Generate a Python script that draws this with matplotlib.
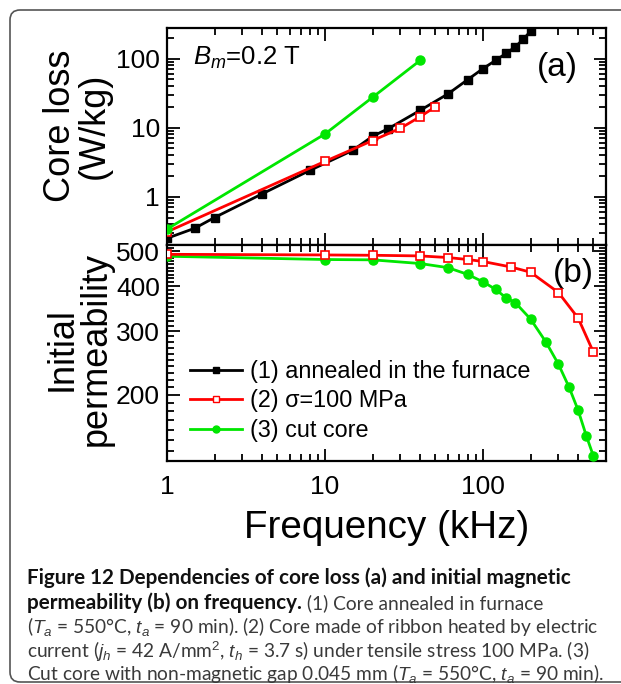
import matplotlib
matplotlib.use("Agg")
import matplotlib.pyplot as plt
import numpy as np
from matplotlib.lines import Line2D
from matplotlib.patches import FancyBboxPatch
from matplotlib.text import Annotation
from matplotlib.ticker import FixedLocator, LogLocator, NullFormatter
from matplotlib.transforms import IdentityTransform

plt.rcParams["font.family"] = ["Liberation Sans", "DejaVu Sans"]
plt.rcParams["mathtext.fontset"] = "custom"
plt.rcParams["mathtext.rm"] = "Liberation Sans"
plt.rcParams["mathtext.it"] = "Liberation Sans:italic"

# ---- data ----
# (a) core loss, W/kg
loss_f1 = [1, 1.5, 2, 4, 8, 15, 20, 25, 40, 60, 80, 100, 120, 140, 160, 180, 200]
loss_v1 = [0.25, 0.35, 0.50, 1.1, 2.4, 4.7, 7.5, 9.6, 17.8, 30.8, 49.6, 71.6,
           94, 119, 148, 191, 249]
loss_f2 = [1, 10, 20, 30, 40, 50]
loss_v2 = [0.31, 3.25, 6.5, 9.8, 14.4, 20.1]
loss_f3 = [1, 10, 20, 40]
loss_v3 = [0.34, 8.1, 27.5, 94]

# (b) initial permeability
perm_f2 = [1, 10, 20, 40, 60, 80, 100, 150, 200, 300, 400, 500]
perm_v2 = [490, 488, 487, 485, 480, 474, 468, 452, 437, 384, 326, 262]
perm_f3 = [1, 10, 20, 40, 60, 80, 100, 120, 140, 160, 200, 250, 300, 350, 400,
           450, 500]
perm_v3 = [484, 474, 473, 462, 450, 431, 411, 392, 371, 360, 324, 280, 243, 210,
           181, 154, 135]

x_ticks = [1, 10, 100]
x_ticklabels = ["1", "10", "100"]
loss_ticks = [1, 10, 100]
loss_ticklabels = ["1", "10", "100"]
perm_ticks = [200, 300, 400, 500]
perm_ticklabels = ["200", "300", "400", "500"]
labels = ["(1) annealed in the furnace", "(2) σ=100 MPa", "(3) cut core"]

BLACK, RED, GREEN = "#000000", "#ff0000", "#00e600"

W, H = 621, 684
fig = plt.figure(figsize=(W / 100, H / 100), dpi=100)


def axes_px(x0, y0, x1, y1):
    """Add axes given pixel box (top-left origin)."""
    return fig.add_axes([x0 / W, 1 - y1 / H, (x1 - x0) / W, (y1 - y0) / H])


ax1 = axes_px(167, 28, 606, 245)
ax2 = axes_px(167, 245, 606, 461)

# (a)
ax1.plot(loss_f1, loss_v1, color=BLACK, lw=2, marker="s", ms=6, zorder=3)
ax1.plot(loss_f2, loss_v2, color=RED, lw=2, marker="s", ms=6, mfc="white",
         mec=RED, mew=1.2, zorder=4)
ax1.plot(loss_f3, loss_v3, color=GREEN, lw=2, marker="o", ms=6.5, zorder=4)

# (b)
ax2.plot(perm_f2, perm_v2, color=RED, lw=2, marker="s", ms=6, mfc="white",
         mec=RED, mew=1.2, zorder=4)
ax2.plot(perm_f3, perm_v3, color=GREEN, lw=2, marker="o", ms=6.5, zorder=3)

for ax in (ax1, ax2):
    ax.set_xscale("log")
    ax.set_yscale("log")
    ax.set_xlim(1, 600)
    ax.xaxis.set_major_locator(FixedLocator(x_ticks))
    ax.xaxis.set_minor_locator(LogLocator(subs=np.arange(2, 10)))
    ax.xaxis.set_minor_formatter(NullFormatter())
    ax.tick_params(which="both", direction="in", top=True, right=True,
                   width=1.3, labelsize=19, pad=5)
    ax.tick_params(which="major", length=9)
    ax.tick_params(which="minor", length=5)
    for s in ax.spines.values():
        s.set_linewidth(1.6)

ax1.set_ylim(0.2, 277)
ax1.set_yticks(loss_ticks)
ax1.set_yticklabels(loss_ticklabels)
ax1.yaxis.set_minor_locator(LogLocator(subs=np.arange(2, 10)))
ax1.yaxis.set_minor_formatter(NullFormatter())
ax1.tick_params(axis="x", labelbottom=False)

ax2.set_ylim(131, 520)
ax2.set_yticks(perm_ticks)
ax2.set_yticklabels(perm_ticklabels)
ax2.yaxis.set_minor_locator(FixedLocator(np.arange(140, 520, 10)))
ax2.yaxis.set_minor_formatter(NullFormatter())
ax2.set_xticklabels(x_ticklabels)
ax2.tick_params(axis="x", pad=10)

ax1.set_ylabel("Core loss\n(W/kg)", fontsize=26, linespacing=0.95,
               va="center", ha="center")
ax1.yaxis.set_label_coords(-0.205, 0.55)
ax2.set_ylabel("Initial\npermeability", fontsize=26, linespacing=0.95,
               va="center", ha="center")
ax2.yaxis.set_label_coords(-0.2, 0.52)
ax2.set_xlabel("Frequency (kHz)", fontsize=27.8, labelpad=8)

ax1.text(0.06, 0.83, r"$B_m$=0.2 T", transform=ax1.transAxes, fontsize=18.5,
         va="baseline")
ax1.text(0.89, 0.82, "(a)", transform=ax1.transAxes, fontsize=24,
         ha="center", va="center")
ax2.text(0.925, 0.87, "(b)", transform=ax2.transAxes, fontsize=24,
         ha="center", va="center")

handles = [
    Line2D([], [], color=BLACK, lw=2, marker="s", ms=4.5),
    Line2D([], [], color=RED, lw=2, marker="s", ms=4.5, mfc="white", mec=RED),
    Line2D([], [], color=GREEN, lw=2, marker="o", ms=5),
]
ax2.legend(handles, labels, loc="lower left", bbox_to_anchor=(0.052, 0.088),
           frameon=False, fontsize=16.8, handlelength=2.25, handletextpad=0.35,
           labelspacing=0.28, borderpad=0, borderaxespad=0)

# rounded frame round the whole figure (right side runs off the picture)
frame = FancyBboxPatch((10, 2), 660, 672, boxstyle="round,pad=0,rounding_size=10",
                       transform=IdentityTransform(), fill=False, ec="#555555",
                       lw=1.2)
fig.patches.append(frame)

# caption
CAP = dict(family=["Lato", "DejaVu Sans"], va="baseline")
DARK, GREY = "#111111", "#3a3a3a"
BOLD_SIZE, REG_SIZE = 14.9, 13.8


def cap(x, y, s, **kw):
    return fig.text(x / W, 1 - y / H, s, **CAP, **kw)


cap(27, 584, "Figure 12 Dependencies of core loss (a) and initial magnetic",
    weight="bold", color=DARK, fontsize=BOLD_SIZE)
tb = cap(27, 609, "permeability (b) on frequency.", weight="bold", color=DARK,
         fontsize=BOLD_SIZE)
fig.add_artist(Annotation(" (1) Core annealed in furnace", xy=(1, 1 - 609 / H),
                          xycoords=(tb, "figure fraction"), color=GREY,
                          fontsize=REG_SIZE, **CAP))
cap(27, 633.5, r"($T_a$ = 550°C, $t_a$ = 90 min). (2) Core made of ribbon heated by electric",
    color=GREY, fontsize=REG_SIZE)
cap(27, 657.5, r"current ($j_h$ = 42 A/mm$^2$, $t_h$ = 3.7 s) under tensile stress 100 MPa. (3)",
    color=GREY, fontsize=REG_SIZE)
cap(27, 680, r"Cut core with non-magnetic gap 0.045 mm ($T_a$ = 550°C, $t_a$ = 90 min).",
    color=GREY, fontsize=REG_SIZE)

fig.savefig("out.png", dpi=100)
